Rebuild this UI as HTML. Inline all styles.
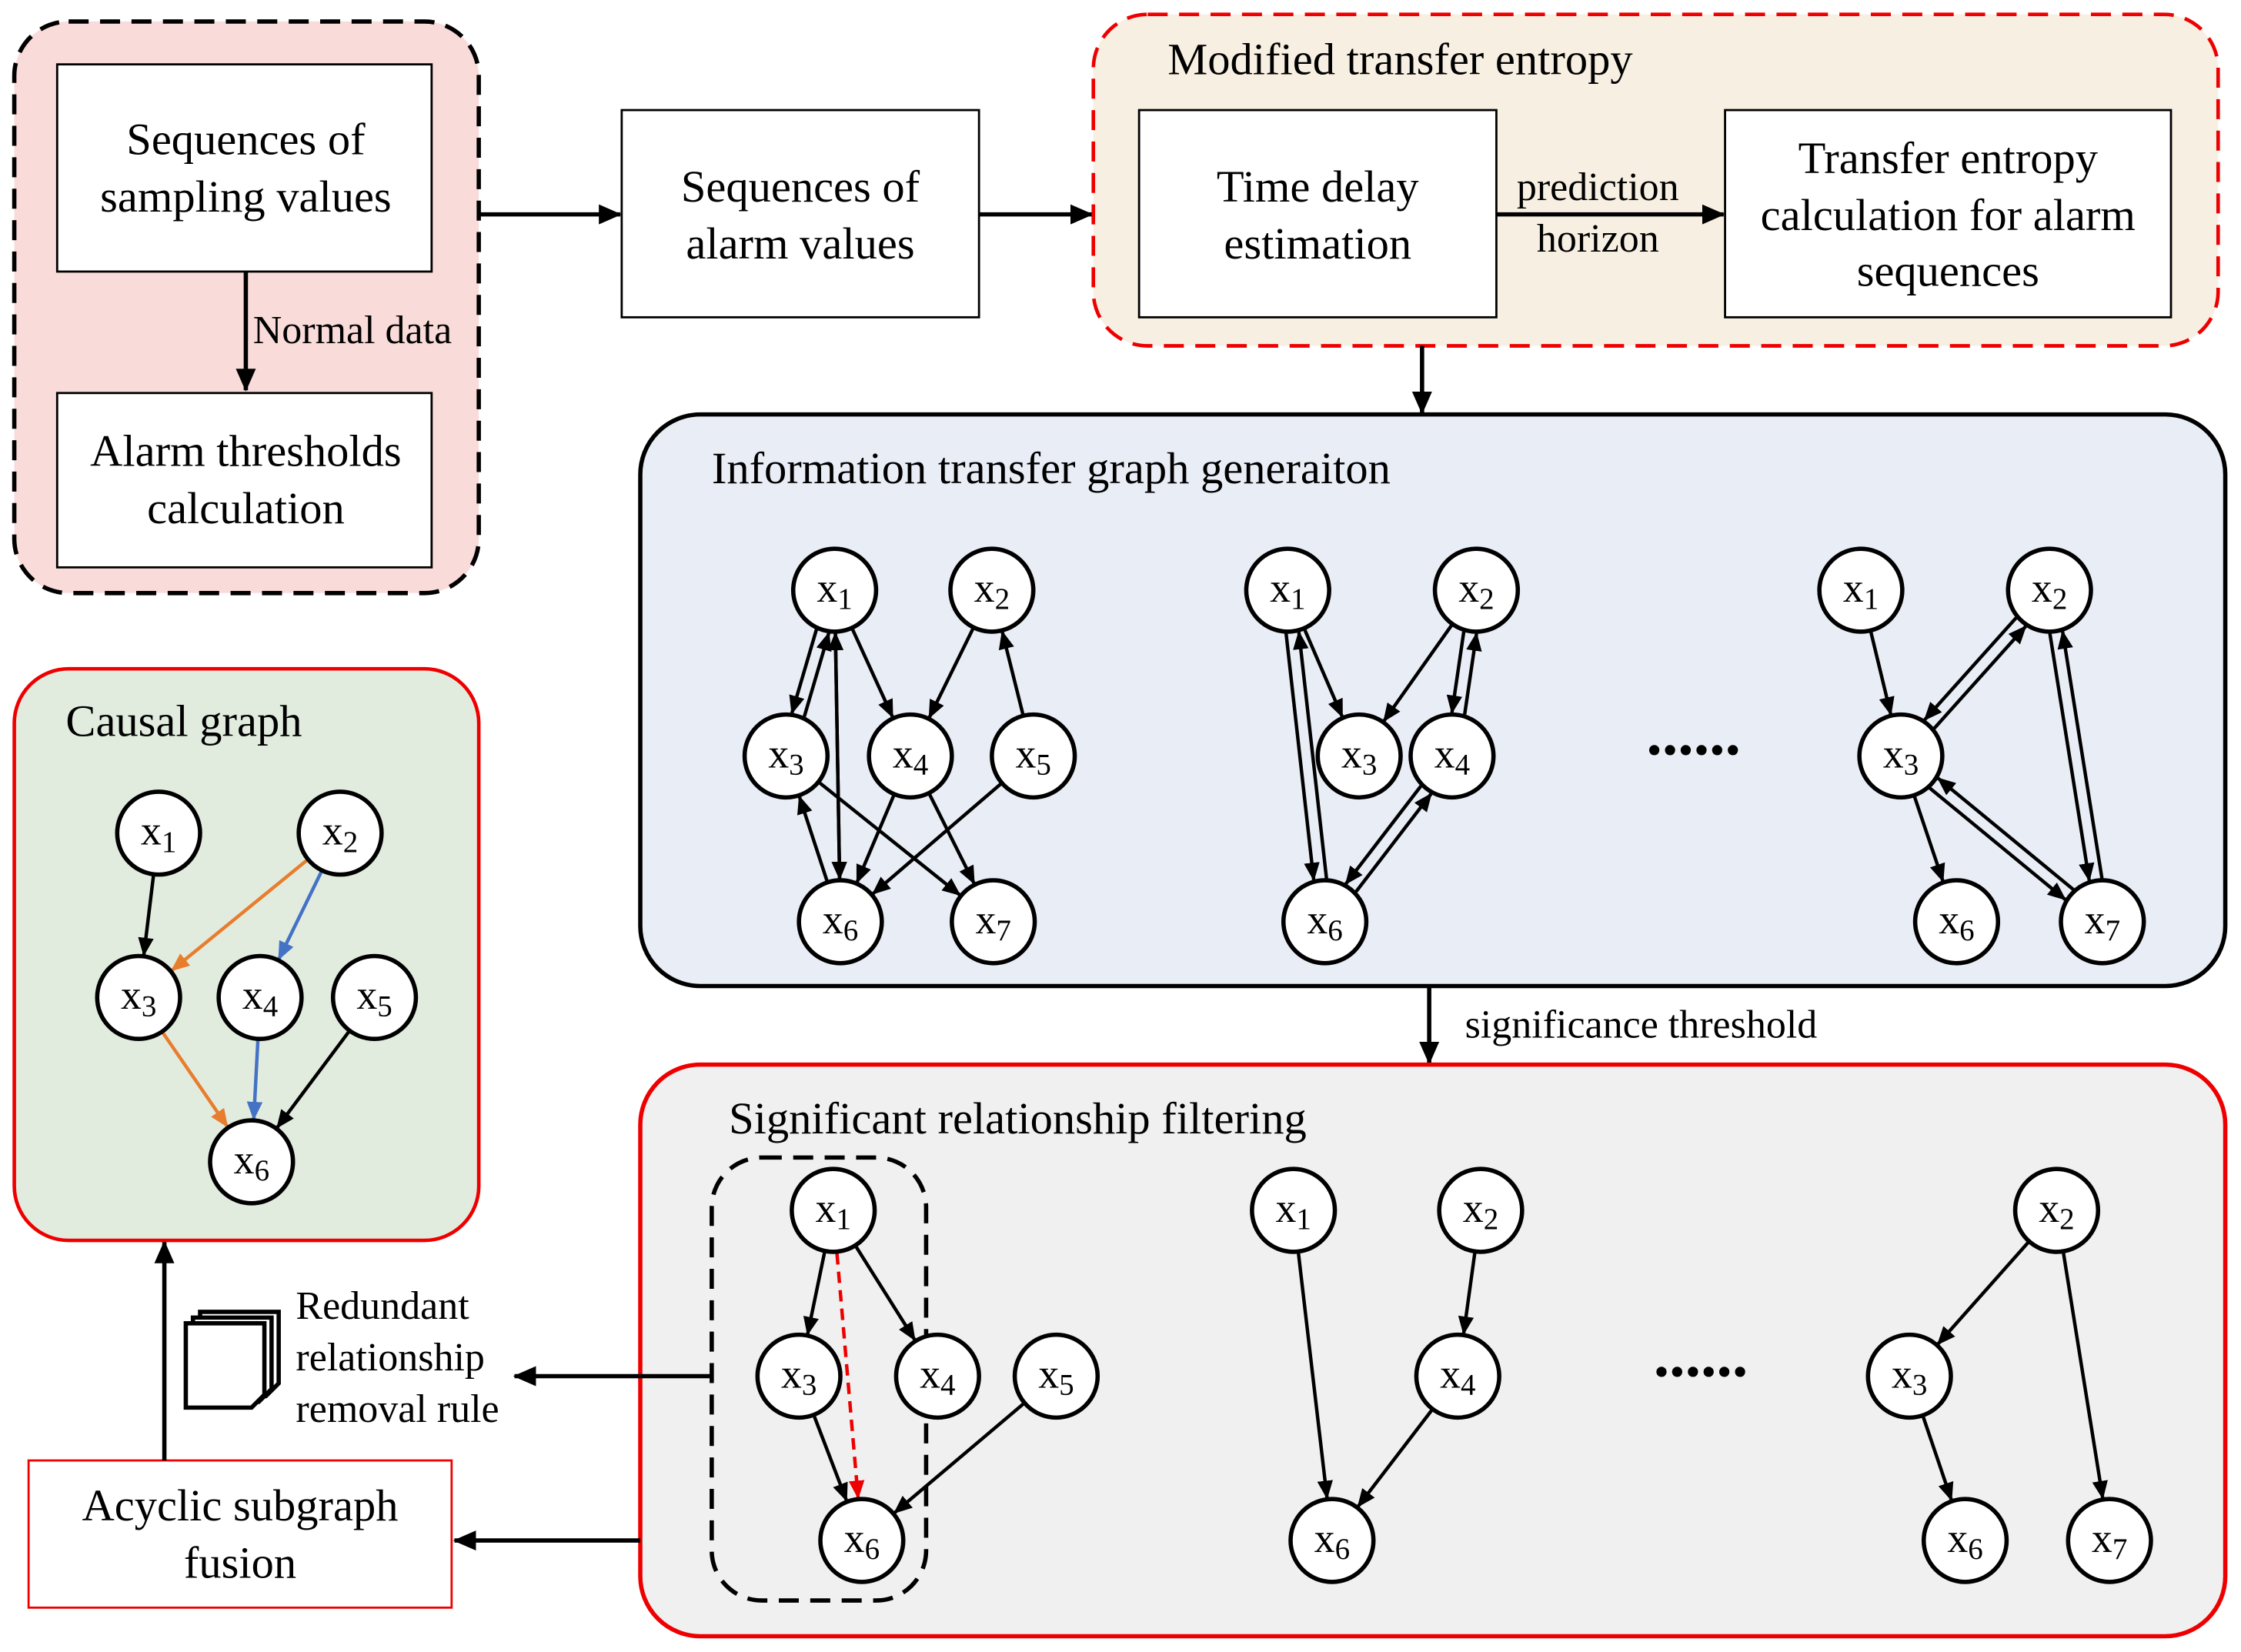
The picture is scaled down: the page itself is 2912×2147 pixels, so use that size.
<!DOCTYPE html>
<html><head><meta charset="utf-8">
<style>
html,body{margin:0;padding:0;background:#fff;}
svg{display:block;}
text{font-family:"Liberation Serif",serif;fill:#000;}
.bt{font-size:31.5px;text-anchor:middle;}
.nl{font-size:29px;text-anchor:middle;}
.nl tspan.s{font-size:21px;}
</style></head>
<body>
<svg id="s" width="2912" height="2147" viewBox="0 0 1568 1156" xmlns="http://www.w3.org/2000/svg">
<defs>
<marker id="a" markerWidth="13" markerHeight="11" refX="12" refY="5.5" orient="auto" markerUnits="userSpaceOnUse"><path d="M0,0 L13,5.5 L0,11 Z" fill="#000"/></marker>
<marker id="ab" markerWidth="16" markerHeight="14" refX="15" refY="7" orient="auto" markerUnits="userSpaceOnUse"><path d="M0,0 L16,7 L0,14 Z" fill="#000"/></marker>
<marker id="ao" markerWidth="13" markerHeight="11" refX="12" refY="5.5" orient="auto" markerUnits="userSpaceOnUse"><path d="M0,0 L13,5.5 L0,11 Z" fill="#e87d2e"/></marker>
<marker id="abl" markerWidth="13" markerHeight="11" refX="12" refY="5.5" orient="auto" markerUnits="userSpaceOnUse"><path d="M0,0 L13,5.5 L0,11 Z" fill="#4472c4"/></marker>
<marker id="ar" markerWidth="13" markerHeight="11" refX="12" refY="5.5" orient="auto" markerUnits="userSpaceOnUse"><path d="M0,0 L13,5.5 L0,11 Z" fill="#e00"/></marker>
</defs>

<rect x="10" y="15" width="325" height="400" rx="38" fill="#f9dbd9" stroke="#000" stroke-width="3" stroke-dasharray="14,8"/>
<rect x="40" y="45" width="262" height="145" fill="#fff" stroke="#000" stroke-width="1.5"/>
<text class="bt" x="172" y="108">Sequences of</text><text class="bt" x="172" y="148">sampling values</text>
<rect x="40" y="275" width="262" height="122" fill="#fff" stroke="#000" stroke-width="1.5"/>
<text class="bt" x="172" y="326">Alarm thresholds</text><text class="bt" x="172" y="366">calculation</text>
<line x1="172" y1="190" x2="172" y2="273" stroke="#000" stroke-width="3" marker-end="url(#ab)"/>
<text x="177" y="240" style="font-size:28px">Normal data</text>

<line x1="336" y1="150" x2="434" y2="150" stroke="#000" stroke-width="3" marker-end="url(#ab)"/>
<rect x="435" y="77" width="250" height="145" fill="#fff" stroke="#000" stroke-width="1.5"/>
<text class="bt" x="560" y="141">Sequences of</text><text class="bt" x="560" y="181">alarm values</text>
<line x1="685" y1="150" x2="764" y2="150" stroke="#000" stroke-width="3" marker-end="url(#ab)"/>

<rect x="765" y="10" width="787" height="232" rx="38" fill="#f7efe2" stroke="#e00" stroke-width="2.5" stroke-dasharray="14,8"/>
<text x="817" y="52" style="font-size:31.5px">Modified transfer entropy</text>
<rect x="797" y="77" width="250" height="145" fill="#fff" stroke="#000" stroke-width="1.5"/>
<text class="bt" x="922" y="141">Time delay</text><text class="bt" x="922" y="181">estimation</text>
<rect x="1207" y="77" width="312" height="145" fill="#fff" stroke="#000" stroke-width="1.5"/>
<text class="bt" x="1363" y="121">Transfer entropy</text><text class="bt" x="1363" y="161">calculation for alarm</text><text class="bt" x="1363" y="200">sequences</text>
<line x1="1047" y1="150" x2="1206" y2="150" stroke="#000" stroke-width="3" marker-end="url(#ab)"/>
<text class="bt" x="1118" y="140" style="font-size:28px">prediction</text>
<text class="bt" x="1118" y="176" style="font-size:28px">horizon</text>
<line x1="995" y1="242" x2="995" y2="289" stroke="#000" stroke-width="3" marker-end="url(#ab)"/>

<rect x="448" y="290" width="1109" height="400" rx="42" fill="#e9edf6" stroke="#000" stroke-width="3"/>
<text x="498" y="338" style="font-size:31.5px">Information transfer graph generaiton</text>
<text x="1185" y="528" class="bt" style="font-size:44px;font-weight:bold">......</text>

<line x1="1000" y1="690" x2="1000" y2="744" stroke="#000" stroke-width="3" marker-end="url(#ab)"/>
<text x="1025" y="726" style="font-size:28px">significance threshold</text>

<rect x="448" y="745" width="1109" height="400" rx="42" fill="#f0f0f0" stroke="#e00" stroke-width="3"/>
<text x="510" y="793" style="font-size:31.5px">Significant relationship filtering</text>
<rect x="498" y="810" width="150" height="310" rx="35" fill="none" stroke="#000" stroke-width="3" stroke-dasharray="14,8"/>
<text x="1190" y="963" class="bt" style="font-size:44px;font-weight:bold">......</text>

<line x1="498" y1="963" x2="360" y2="963" stroke="#000" stroke-width="3" marker-end="url(#ab)"/>
<line x1="448" y1="1078" x2="318" y2="1078" stroke="#000" stroke-width="3" marker-end="url(#ab)"/>
<g fill="#fff" stroke="#000" stroke-width="3">
<path d="M140,918 H195 V968 L186,977 H140 Z"/>
<path d="M135,922 H190 V972 L181,981 H135 Z"/>
<path d="M130,926 H185 V976 L176,985 H130 Z"/>
</g>
<text x="207" y="923" style="font-size:28px">Redundant</text>
<text x="207" y="959" style="font-size:28px">relationship</text>
<text x="207" y="995" style="font-size:28px">removal rule</text>

<rect x="20" y="1022" width="296" height="103" fill="#fff" stroke="#e00" stroke-width="1.5"/>
<text class="bt" x="168" y="1064">Acyclic subgraph</text><text class="bt" x="168" y="1104">fusion</text>
<line x1="115" y1="1022" x2="115" y2="869" stroke="#000" stroke-width="3" marker-end="url(#ab)"/>

<rect x="10" y="468" width="325" height="400" rx="38" fill="#e1ecdf" stroke="#e00" stroke-width="2.5"/>
<text x="46" y="515" style="font-size:31.5px">Causal graph</text>

<g id="edges"></g>
<g id="nodes" fill="#fff" stroke="#000" stroke-width="3">
<circle cx="584" cy="413" r="29"/><circle cx="694" cy="413" r="29"/><circle cx="550" cy="529" r="29"/><circle cx="637" cy="529" r="29"/><circle cx="723" cy="529" r="29"/><circle cx="588" cy="645" r="29"/><circle cx="695" cy="645" r="29"/>
<circle cx="901" cy="413" r="29"/><circle cx="1033" cy="413" r="29"/><circle cx="951" cy="529" r="29"/><circle cx="1016" cy="529" r="29"/><circle cx="927" cy="645" r="29"/>
<circle cx="1302" cy="413" r="29"/><circle cx="1434" cy="413" r="29"/><circle cx="1330" cy="529" r="29"/><circle cx="1369" cy="645" r="29"/><circle cx="1471" cy="645" r="29"/>
<circle cx="583" cy="847" r="29"/><circle cx="559" cy="963" r="29"/><circle cx="656" cy="963" r="29"/><circle cx="739" cy="963" r="29"/><circle cx="603" cy="1078" r="29"/>
<circle cx="905" cy="847" r="29"/><circle cx="1036" cy="847" r="29"/><circle cx="1020" cy="963" r="29"/><circle cx="932" cy="1078" r="29"/>
<circle cx="1439" cy="847" r="29"/><circle cx="1336" cy="963" r="29"/><circle cx="1375" cy="1078" r="29"/><circle cx="1476" cy="1078" r="29"/>
<circle cx="111" cy="583" r="29"/><circle cx="238" cy="583" r="29"/><circle cx="97" cy="698" r="29"/><circle cx="182" cy="698" r="29"/><circle cx="262" cy="698" r="29"/><circle cx="176" cy="813" r="29"/>
</g>
<g class="nl">
<text class="nl" x="584" y="421">x<tspan class="s" dy="5">1</tspan></text>
<text class="nl" x="694" y="421">x<tspan class="s" dy="5">2</tspan></text>
<text class="nl" x="550" y="537">x<tspan class="s" dy="5">3</tspan></text>
<text class="nl" x="637" y="537">x<tspan class="s" dy="5">4</tspan></text>
<text class="nl" x="723" y="537">x<tspan class="s" dy="5">5</tspan></text>
<text class="nl" x="588" y="653">x<tspan class="s" dy="5">6</tspan></text>
<text class="nl" x="695" y="653">x<tspan class="s" dy="5">7</tspan></text>

<text class="nl" x="901" y="421">x<tspan class="s" dy="5">1</tspan></text>
<text class="nl" x="1033" y="421">x<tspan class="s" dy="5">2</tspan></text>
<text class="nl" x="951" y="537">x<tspan class="s" dy="5">3</tspan></text>
<text class="nl" x="1016" y="537">x<tspan class="s" dy="5">4</tspan></text>
<text class="nl" x="927" y="653">x<tspan class="s" dy="5">6</tspan></text>

<text class="nl" x="1302" y="421">x<tspan class="s" dy="5">1</tspan></text>
<text class="nl" x="1434" y="421">x<tspan class="s" dy="5">2</tspan></text>
<text class="nl" x="1330" y="537">x<tspan class="s" dy="5">3</tspan></text>
<text class="nl" x="1369" y="653">x<tspan class="s" dy="5">6</tspan></text>
<text class="nl" x="1471" y="653">x<tspan class="s" dy="5">7</tspan></text>

<text class="nl" x="583" y="855">x<tspan class="s" dy="5">1</tspan></text>
<text class="nl" x="559" y="971">x<tspan class="s" dy="5">3</tspan></text>
<text class="nl" x="656" y="971">x<tspan class="s" dy="5">4</tspan></text>
<text class="nl" x="739" y="971">x<tspan class="s" dy="5">5</tspan></text>
<text class="nl" x="603" y="1086">x<tspan class="s" dy="5">6</tspan></text>

<text class="nl" x="905" y="855">x<tspan class="s" dy="5">1</tspan></text>
<text class="nl" x="1036" y="855">x<tspan class="s" dy="5">2</tspan></text>
<text class="nl" x="1020" y="971">x<tspan class="s" dy="5">4</tspan></text>
<text class="nl" x="932" y="1086">x<tspan class="s" dy="5">6</tspan></text>

<text class="nl" x="1439" y="855">x<tspan class="s" dy="5">2</tspan></text>
<text class="nl" x="1336" y="971">x<tspan class="s" dy="5">3</tspan></text>
<text class="nl" x="1375" y="1086">x<tspan class="s" dy="5">6</tspan></text>
<text class="nl" x="1476" y="1086">x<tspan class="s" dy="5">7</tspan></text>

<text class="nl" x="111" y="591">x<tspan class="s" dy="5">1</tspan></text>
<text class="nl" x="238" y="591">x<tspan class="s" dy="5">2</tspan></text>
<text class="nl" x="97" y="706">x<tspan class="s" dy="5">3</tspan></text>
<text class="nl" x="182" y="706">x<tspan class="s" dy="5">4</tspan></text>
<text class="nl" x="262" y="706">x<tspan class="s" dy="5">5</tspan></text>
<text class="nl" x="176" y="821">x<tspan class="s" dy="5">6</tspan></text>
</g>
</svg>
<script>
(function(){
var g=document.getElementById('edges'),NS='http://www.w3.org/2000/svg',R=30;
function e(a,b,col,mk,dash,off){
 var dx=b[0]-a[0],dy=b[1]-a[1],L=Math.sqrt(dx*dx+dy*dy),ux=dx/L,uy=dy/L,px=-uy*(off||0),py=ux*(off||0);
 var l=document.createElementNS(NS,'line');
 l.setAttribute('x1',a[0]+ux*R+px);l.setAttribute('y1',a[1]+uy*R+py);
 l.setAttribute('x2',b[0]-ux*R+px);l.setAttribute('y2',b[1]-uy*R+py);
 l.setAttribute('stroke',col||'#000');l.setAttribute('stroke-width','2.4');
 l.setAttribute('marker-end','url(#'+(mk||'a')+')');
 if(dash)l.setAttribute('stroke-dasharray','8,5');
 g.appendChild(l);
}
function d(a,b){e(a,b,0,0,0,4.5);e(b,a,0,0,0,4.5);}
var A={1:[584,413],2:[694,413],3:[550,529],4:[637,529],5:[723,529],6:[588,645],7:[695,645]};
d(A[1],A[3]);e(A[1],A[4]);e(A[2],A[4]);e(A[5],A[2]);e(A[1],A[6]);e(A[6],A[1]);
e(A[4],A[6]);e(A[5],A[6]);e(A[6],A[3]);e(A[3],A[7]);e(A[4],A[7]);
var B={1:[901,413],2:[1033,413],3:[951,529],4:[1016,529],6:[927,645]};
e(B[1],B[3]);e(B[2],B[3]);d(B[2],B[4]);d(B[1],B[6]);d(B[4],B[6]);
var C={1:[1302,413],2:[1434,413],3:[1330,529],6:[1369,645],7:[1471,645]};
e(C[1],C[3]);d(C[2],C[3]);e(C[3],C[6]);d(C[3],C[7]);d(C[2],C[7]);
var F={1:[583,847],3:[559,963],4:[656,963],5:[739,963],6:[603,1078]};
e(F[1],F[3]);e(F[1],F[4]);e(F[1],F[6],'#e00','ar',1);e(F[3],F[6]);e(F[5],F[6]);
var G={1:[905,847],2:[1036,847],4:[1020,963],6:[932,1078]};
e(G[1],G[6]);e(G[2],G[4]);e(G[4],G[6]);
var H={2:[1439,847],3:[1336,963],6:[1375,1078],7:[1476,1078]};
e(H[2],H[3]);e(H[2],H[7]);e(H[3],H[6]);
var K={1:[111,583],2:[238,583],3:[97,698],4:[182,698],5:[262,698],6:[176,813]};
e(K[1],K[3]);e(K[2],K[3],'#e87d2e','ao');e(K[2],K[4],'#4472c4','abl');
e(K[3],K[6],'#e87d2e','ao');e(K[4],K[6],'#4472c4','abl');e(K[5],K[6]);
})();
</script>
</body></html>
